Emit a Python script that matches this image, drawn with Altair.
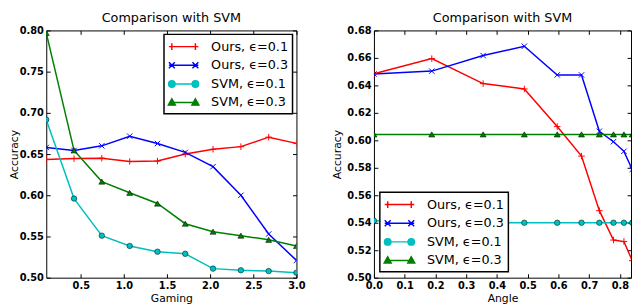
import altair as alt
import pandas as pd

FONT = "DejaVu Sans"

series = ["Ours, ϵ=0.1", "Ours, ϵ=0.3", "SVM, ϵ=0.1", "SVM, ϵ=0.3"]
colors = ["#ff0000", "#0000ff", "#00bfbf", "#008000"]

# Left panel: Gaming
gaming = [0.1, 0.422, 0.744, 1.067, 1.389, 1.711, 2.033, 2.356, 2.678, 3.0]
gaming_ours_01 = [0.6435, 0.6445, 0.645, 0.641, 0.6415, 0.650, 0.6558, 0.659, 0.6705, 0.663]
gaming_ours_03 = [0.658, 0.6544, 0.660, 0.6717, 0.6628, 0.652, 0.6347, 0.600, 0.553, 0.521]
gaming_svm_01 = [0.6917, 0.596, 0.551, 0.5385, 0.5315, 0.529, 0.511, 0.509, 0.508, 0.506]
gaming_svm_03 = [0.797, 0.6544, 0.6166, 0.603, 0.590, 0.5655, 0.5558, 0.551, 0.546, 0.5385]

# Right panel: Angle
angle = [0.0, 0.188, 0.355, 0.489, 0.596, 0.675, 0.733, 0.779, 0.813, 0.840]
angle_ours_01 = [0.6485, 0.6595, 0.6413, 0.6374, 0.610, 0.5885, 0.5488, 0.5274, 0.5263, 0.5124]
angle_ours_03 = [0.6483, 0.6504, 0.6617, 0.6685, 0.6476, 0.6476, 0.6066, 0.599, 0.592, 0.5788]
angle_svm_01 = [0.5415, 0.540, 0.540, 0.540, 0.540, 0.540, 0.540, 0.540, 0.540, 0.540]
angle_svm_03 = [0.6043, 0.6043, 0.6043, 0.6043, 0.6043, 0.6043, 0.6043, 0.6043, 0.6043, 0.6043]

gaming_ticks = [0.5, 1.0, 1.5, 2.0, 2.5, 3.0]
gaming_yticks = [0.50, 0.55, 0.60, 0.65, 0.70, 0.75, 0.80]
angle_ticks = [0.0, 0.1, 0.2, 0.3, 0.4, 0.5, 0.6, 0.7, 0.8]
angle_yticks = [0.50, 0.52, 0.54, 0.56, 0.58, 0.60, 0.62, 0.64, 0.66, 0.68]

# marker shapes (data) and legend symbols (line with two markers)
PLUS = "M-1,0H1M0,-1V1"
XMARK = "M-1,-1L1,1M-1,1L1,-1"
marker_shapes = [PLUS, XMARK, "circle", "triangle-up"]
marker_sizes = [44, 30, 32, 38]
marker_filled = [False, False, True, True]

legend_paths = [
    "M-1,0H3M-0.6,-0.47V0.47M2.6,-0.47V0.47",
    "M-1,0H3M-1,-0.4L-0.2,0.4M-1,0.4L-0.2,-0.4M2.2,-0.4L3,0.4M2.2,0.4L3,-0.4",
    "M-1,0H3M-0.16,0A0.44,0.44 0 1,1 -1.04,0A0.44,0.44 0 1,1 -0.16,0"
    "M3.04,0A0.44,0.44 0 1,1 2.16,0A0.44,0.44 0 1,1 3.04,0",
    "M-1,0H3M-0.6,-0.5L-0.13,0.35L-1.07,0.35ZM2.6,-0.5L3.07,0.35L2.13,0.35Z",
]
legend_fills = ["transparent", "transparent", colors[2], colors[3]]


def pick(arr):
    names = "[" + ",".join("'%s'" % s for s in series) + "]"
    return "[" + ",".join("'%s'" % a for a in arr) + "][indexof(%s, datum.value)]" % names


def legend_def(orient, offset):
    return alt.Legend(
        title=None, orient=orient, offset=offset,
        strokeColor="black", fillColor="white", padding=4, cornerRadius=0,
        labelFont=FONT, labelFontSize=13, labelColor="black",
        labelOffset=27, symbolSize=225, rowPadding=3,
        symbolType=alt.ExprRef(expr=pick(legend_paths)),
        symbolFillColor=alt.ExprRef(expr=pick(legend_fills)),
        symbolStrokeColor=alt.ExprRef(expr=pick(colors)),
        symbolStrokeWidth=1.5, symbolOpacity=1,
    )


def make_panel(xvals, ys, xdomain, xticks, xfmt, ydomain, yticks, xtitle,
               W, H, lorient, loffset, ytitle_x):
    rows = []
    for s, yv in zip(series, ys):
        for xv, v in zip(xvals, yv):
            rows.append({"x": xv, "y": v, "series": s})
    data = pd.DataFrame(rows)
    base = alt.Chart(data)
    x = alt.X("x:Q", scale=alt.Scale(domain=xdomain, nice=False, zero=False),
              axis=alt.Axis(values=xticks, format=xfmt, title=xtitle,
                            grid=True, gridColor="black", gridOpacity=1, gridWidth=1,
                            gridDash=[4, H - 8, 4, 4000], ticks=False, domain=False,
                            labelFont=FONT, labelFontSize=10, labelFontWeight="bold",
                            labelColor="black",
                            labelPadding=3, labelFlush=False, labelOverlap=False,
                            titleFont=FONT, titleFontSize=11, titleFontWeight="normal",
                            titleColor="black", titlePadding=2))
    y = alt.Y("y:Q", scale=alt.Scale(domain=ydomain, nice=False, zero=False),
              axis=alt.Axis(values=yticks, format=".2f", title="Accuracy",
                            grid=True, gridColor="black", gridOpacity=1, gridWidth=1,
                            gridDash=[4, W - 8, 4, 4000], ticks=False, domain=False,
                            labelFont=FONT, labelFontSize=10, labelFontWeight="bold",
                            labelColor="black",
                            labelPadding=3, labelFlush=False, labelOverlap=False,
                            titleFont=FONT, titleFontSize=11, titleFontWeight="normal",
                            titleColor="black", titleX=ytitle_x, titleY=H / 2))
    color_leg = alt.Color("series:N", scale=alt.Scale(domain=series, range=colors),
                          legend=legend_def(lorient, loffset))
    color = alt.Color("series:N", scale=alt.Scale(domain=series, range=colors), legend=None)

    layers = [base.mark_line(strokeWidth=1.5, clip=True).encode(x=x, y=y, color=color_leg)]
    for s, shp, sz, fl in zip(series, marker_shapes, marker_sizes, marker_filled):
        sub = base.transform_filter(alt.FieldEqualPredicate(field="series", equal=s))
        if fl:
            mk = sub.mark_point(shape=shp, size=sz, filled=True, stroke="black",
                                strokeWidth=0.5, opacity=1, clip=True)
        else:
            mk = sub.mark_point(shape=shp, size=sz, filled=False, strokeWidth=1,
                                opacity=1, clip=True)
        layers.append(mk.encode(x=x, y=y, color=color))
    return alt.layer(*layers).properties(
        width=W, height=H,
        title=alt.TitleParams("Comparison with SVM", font=FONT, fontSize=13,
                              fontWeight="normal", color="black", offset=1,
                              frame="group", anchor="middle"),
    )


H = 252
left = make_panel(gaming, [gaming_ours_01, gaming_ours_03, gaming_svm_01, gaming_svm_03],
                  [0.1, 3.0], gaming_ticks, ".1f", [0.5, 0.8], gaming_yticks, "Gaming",
                  255, H, "top-right", 4, -27)
right = make_panel(angle, [angle_ours_01, angle_ours_03, angle_svm_01, angle_svm_03],
                   [0.0, 0.836], angle_ticks, ".1f", [0.5, 0.68], angle_yticks, "Angle",
                   262, H, "bottom-left", 6, -32)

chart = alt.hconcat(left, right, spacing=25).resolve_scale(
    color="independent"
).resolve_legend(color="independent").properties(
    padding=0, background="white"
).configure_view(stroke="black", strokeWidth=1).configure_legend(
    strokeColor="black", strokeWidth=1.5
)

chart.save("out.html", embed_options={"renderer": "svg", "actions": False})
